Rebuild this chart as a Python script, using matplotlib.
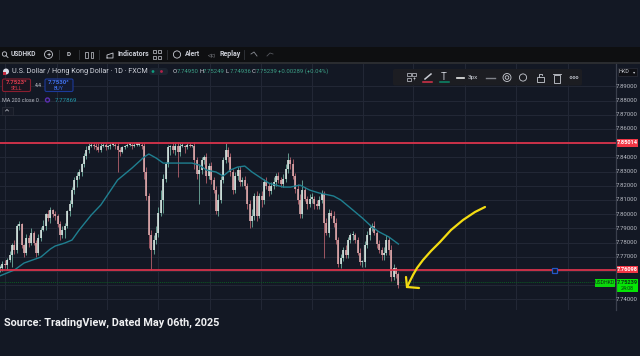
import matplotlib
matplotlib.use("Agg")
import matplotlib.pyplot as plt
from matplotlib.patches import Rectangle, FancyBboxPatch, Circle

BG = "#131824"
GRID = "#232836"

closes = [
 7.762,7.765,7.764,7.768,7.771,7.778,7.775,7.792,7.793,7.778,
 7.773,7.783,7.780,7.787,7.780,7.773,7.783,7.789,7.792,7.800,
 7.797,7.803,7.800,7.799,7.793,7.785,7.789,7.792,7.802,7.807,
 7.817,7.824,7.827,7.830,7.835,7.841,7.845,7.848,7.849,7.848,
 7.847,7.845,7.848,7.849,7.847,7.848,7.849,7.849,7.848,7.845,
 7.844,7.847,7.848,7.849,7.849,7.848,7.849,7.849,7.849,7.848,
 7.830,7.813,7.785,7.775,7.782,7.787,7.801,7.810,7.825,7.835,
 7.847,7.848,7.845,7.848,7.844,7.848,7.848,7.847,7.849,7.848,
 7.848,7.838,7.828,7.831,7.838,7.840,7.827,7.834,7.824,7.817,
 7.802,7.810,7.824,7.838,7.845,7.840,7.830,7.817,7.827,7.831,
 7.823,7.824,7.820,7.807,7.795,7.799,7.813,7.799,7.813,7.810,
 7.823,7.820,7.816,7.820,7.823,7.827,7.824,7.821,7.825,7.832,
 7.838,7.835,7.827,7.818,7.810,7.800,7.817,7.811,7.807,7.811,
 7.811,7.807,7.806,7.810,7.814,7.794,7.787,7.801,7.799,7.794,
 7.782,7.765,7.769,7.775,7.771,7.782,7.785,7.785,7.782,7.773,
 7.766,7.766,7.778,7.785,7.790,7.792,7.787,7.779,7.775,7.771,
 7.773,7.782,7.775,7.756,7.762,7.758,7.750]
wick_up = [
 2,2,3,1,3,2,4,1,2,1,
 1,3,2,3,1,2,3,2,4,1,
 3,2,1,2,1,2,3,2,1,3,
 2,2,3,2,1,2,3,2,1,1,
 2,3,2,1,1,1,1,1,1,3,
 2,1,1,1,1,1,1,1,1,1,
 2,3,2,4,3,5,4,7,3,2,
 2,1,3,2,3,2,2,1,1,1,
 1,3,2,4,2,2,3,2,3,2,
 3,4,3,2,5,2,3,2,3,2,
 3,2,3,2,3,5,2,3,2,3,
 2,3,2,3,3,2,3,2,3,3,
 5,2,4,2,3,4,7,2,2,3,
 4,2,3,3,3,2,3,3,2,3,
 3,2,3,2,3,2,2,3,2,2,
 3,2,3,3,2,2,3,2,3,2,
 4,3,2,3,3,1,1]
wick_down = [
 3,2,2,3,2,8,3,2,3,2,
 3,2,3,2,2,3,2,2,1,3,
 2,3,2,3,2,3,2,6,2,3,
 2,3,5,2,3,2,2,2,1,2,
 2,1,1,1,2,1,2,1,2,15,
 3,1,1,1,1,2,1,1,1,2,
 5,3,9,14,3,3,3,2,9,2,
 2,5,2,3,18,3,1,4,1,1,
 1,6,3,21,3,3,5,2,3,2,
 2,3,2,2,2,3,3,3,2,3,
 3,3,2,3,5,4,3,4,2,5,
 3,2,3,2,2,3,2,2,2,2,
 3,3,2,3,3,3,3,2,3,2,
 3,3,2,2,2,25,2,3,2,3,
 3,2,3,2,2,2,2,3,2,2,
 2,3,3,2,3,2,2,3,2,3,
 3,2,4,3,2,3,2]
ma_bars = [0,6,10,17,21,23,27,30,33,38,42,49,55,60,62,65,68,73,80,83,
           86,90,93,96,99,102,105,110,112,118,121,125,129,133,139,142,146,151,155,158,162,166]
ma_prices = [7.7566,7.7607,7.7656,7.7698,7.7755,7.7776,7.7797,7.7818,7.7889,7.7994,7.8065,7.8241,
             7.8325,7.8402,7.8424,7.8396,7.8360,7.8360,7.8360,7.8346,
             7.8311,7.8297,7.8269,7.8311,7.8332,7.8339,7.8297,7.8241,7.8219,7.8191,7.8191,7.8205,
             7.8170,7.8149,7.8128,7.8100,7.8044,7.7973,7.7910,7.7875,7.7840,7.7790]
grid_bars = [2,23.6,44.6,65.8,87.3,108.6,129.8,151.3,172.1,193.8,215,236.7]
price_ticks = [7.74,7.75,7.76,7.77,7.78,7.79,7.80,7.81,7.82,7.83,7.84,7.85,7.86,7.87,7.88,7.89]
tick_labels = ["7.74000","","","7.77000","7.78000","7.79000","7.80000","7.81000","7.82000",
               "7.83000","7.84000","","7.86000","7.87000","7.88000","7.89000"]
levels = [7.85014, 7.76098]
level_labels = ["7.85014", "7.76098"]
last_price = 7.75239
arrow_x = [485,475,463,451,440,431,423,417,413,407]
arrow_y = [207,212,220,230,242,251,260,268,275,287]

W, H = 640, 356
fig = plt.figure(figsize=(6.4, 3.56), dpi=100, facecolor=BG)

ax = fig.add_axes([0, (H-310)/H, 616/W, (310-63)/H], facecolor=BG)
ax.set_xlim(0, 616/2.4)
ax.set_ylim(7.85014-167/1420, 7.85014+80/1420)
ax.set_axis_off()
for g in grid_bars:
    ax.axvline(g, color=GRID, lw=0.7, zorder=1)
for p in price_ticks:
    ax.axhline(p, color=GRID, lw=0.7, zorder=1)

bars = list(range(len(closes)))
opens = [closes[0]] + closes[:-1]
for i, o, c, u, d in zip(bars, opens, closes, wick_up, wick_down):
    up = c >= o
    hi = max(o, c) + u*0.001
    lo = min(o, c) - d*0.001
    ax.vlines(i, lo, hi, color="#6fae9f" if up else "#b4606c", lw=0.6, zorder=3)
    ax.vlines(i, min(o, c), max(max(o, c), min(o, c)+0.001),
              color="#e6f2ee" if up else "#e8b4b6", lw=1.1, zorder=4)
ax.plot(ma_bars, ma_prices, color="#1f7f90", lw=1.0, zorder=5)
for lv in levels:
    ax.axhline(lv, color="#d9334b", lw=1.3, zorder=6)
ax.axhline(last_price, color="#0c5a22", lw=0.7, ls=(0, (1, 1)), zorder=2)

ui = fig.add_axes([0, 0, 1, 1], facecolor="none")
ui.set_xlim(0, W); ui.set_ylim(H, 0); ui.set_axis_off()
TXT = "#c9ccd4"
FONTS = ["Roboto", "DejaVu Sans"]
def t(x, y, s, size=4.6, color=TXT, ha="left", weight="normal", font=None, **kw):
    ui.text(x, y, s, fontsize=size, color=color, ha=ha, va="center", weight=weight,
            family=font or FONTS, **kw)

ui.add_patch(Rectangle((0, 47), 640, 15, fc="#0e0f11", ec="none"))
ui.add_patch(Rectangle((0, 62), 640, 1.6, fc="#2a2c30", ec="none"))
ui.add_patch(Rectangle((0, 310), 640, 46, fc=BG, ec="none"))
ui.plot([616, 616], [64, 310], color="#3a3f4c", lw=0.9)

ui.add_patch(Circle((4.5, 54), 2.2, fc="none", ec=TXT, lw=0.6))
ui.plot([6, 8], [55.6, 57.5], color=TXT, lw=0.6)
t(11, 54.5, "USDHKD", 4.8, weight="bold")
ui.add_patch(Circle((48.5, 54.5), 4, fc="none", ec=TXT, lw=0.6))
t(48.5, 54.5, "+", 5.5, ha="center")
t(69, 54.5, "D", 4.6, ha="center", weight="bold")
for x in [59, 79, 99, 167, 244]:
    ui.plot([x, x], [50, 59], color="#33363c", lw=0.6)
for x in [86.5, 92]:
    ui.add_patch(Rectangle((x-1.3, 51.5), 2.6, 6, fc="none", ec=TXT, lw=0.5))
ui.plot([107, 113, 113, 107, 107], [58, 58, 53, 55, 58], color=TXT, lw=0.6)
t(118, 54.5, "Indicators", 5, weight="bold")
for x in [155, 160]:
    for y in [51.5, 57]:
        ui.add_patch(Rectangle((x-2, y-1.5), 3.4, 3.2, fc="none", ec=TXT, lw=0.5))
ui.add_patch(Circle((177, 54.5), 3.6, fc="none", ec=TXT, lw=0.6))
t(185, 54.5, "Alert", 5, weight="bold")
t(208, 54.5, "◁◁", 3.4)
t(219, 54.5, "Replay", 5, weight="bold")
ui.plot([251, 254, 257], [54, 52, 56], color="#8b8e95", lw=0.6)
ui.plot([267, 270, 273], [56, 53, 54], color="#55585e", lw=0.6)

ui.add_patch(Circle((6, 71.5), 3, fc="#d8dbe6", ec="none"))
ui.add_patch(Rectangle((3, 71.5), 3, 3, fc="#c5283d", ec="none"))
t(12, 71.5, "U.S. Dollar / Hong Kong Dollar · 1D · FXCM", 5.25, color="#d1d4dc")
ui.add_patch(FancyBboxPatch((149, 68), 19, 7, boxstyle="round,pad=0,rounding_size=3", fc="#1c2430", ec="none"))
ui.add_patch(Circle((153, 71.5), 1.4, fc="#0f9d80", ec="none"))
ui.add_patch(Circle((161.5, 71.5), 1.4, fc="#b3214a", ec="none"))
ohlc = [(173, "O", "7.74950"), (199.5, "H", "7.75249"), (226, "L", "7.74936"), (252, "C", "7.75239")]
for x, k, v in ohlc:
    t(x, 71.5, k, 4.3, color="#d1d4dc")
    t(x+3.6, 71.5, v, 4.3, color="#3c9f86")
t(278.5, 71.5, "+0.00289 (+0.04%)", 4.3, color="#3c9f86")

ui.add_patch(FancyBboxPatch((2.5, 79), 28, 12.5, boxstyle="round,pad=0,rounding_size=1.5", fc="#1a1520", ec="#8a1f30", lw=0.8))
t(16.5, 82.5, "7.7523⁹", 4.4, color="#d83a4c", ha="center", weight="bold")
t(16.5, 88.5, "SELL", 3.8, color="#d83a4c", ha="center")
t(38, 85.5, "4.4", 3.6, ha="center")
ui.add_patch(FancyBboxPatch((45, 79), 28, 12.5, boxstyle="round,pad=0,rounding_size=1.5", fc="#131a30", ec="#1c3a9a", lw=0.8))
t(59, 82.5, "7.7530³", 4.4, color="#3f6fe8", ha="center", weight="bold")
t(59, 88.5, "BUY", 3.8, color="#3f6fe8", ha="center")
t(2.5, 100, "MA 200 close 0", 3.9, color="#b2b5be")
ui.add_patch(Circle((47.5, 100), 2, fc="none", ec="#5b2fb0", lw=1))
t(55, 100, "7.77869", 4.4, color="#2196a6")
ui.add_patch(Rectangle((1.5, 106.5), 11, 8, fc="#171b27", ec="#2a2e39", lw=0.5))
ui.plot([5.5, 7, 8.5], [111, 109.5, 111], color=TXT, lw=0.5)

ui.add_patch(FancyBboxPatch((393, 69), 189, 16.5, boxstyle="round,pad=0,rounding_size=2", fc="#1c1d22", ec="none", zorder=4))
for x, y in [(409, 74.5), (414, 74.5), (409, 79.5)]:
    ui.add_patch(Rectangle((x-2, y-2), 3.6, 3.6, fc="none", ec=TXT, lw=0.5, zorder=5))
t(414, 79.5, "+", 4, zorder=5, ha="center")
ui.plot([425, 431], [79, 74], color=TXT, lw=1.1, zorder=5)
ui.plot([423, 432], [81.5, 81.5], color="#d9334b", lw=1.1, zorder=5)
t(444, 76.5, "T", 7, ha="center", zorder=5)
ui.plot([440, 449], [81.5, 81.5], color="#0c8a6b", lw=1.1, zorder=5)
ui.plot([457, 464], [77.5, 77.5], color="#e8e8e8", lw=1.2, zorder=5)
t(468, 77.5, "3px", 4.6, zorder=5)
ui.plot([486, 495], [77.5, 77.5], color="#80838a", lw=1, zorder=5)
ui.add_patch(Circle((507, 77.5), 4, fc="none", ec=TXT, lw=0.6, zorder=5))
ui.add_patch(Circle((507, 77.5), 1.8, fc="none", ec=TXT, lw=0.6, zorder=5))
ui.add_patch(Circle((523, 77.5), 3.6, fc="none", ec=TXT, lw=0.6, zorder=5))
ui.add_patch(Rectangle((537, 77), 6.5, 5, fc="none", ec=TXT, lw=0.6, zorder=5))
ui.plot([538.5, 538.5, 542, 542], [77, 73.5, 73.5, 75], color=TXT, lw=0.6, zorder=5)
ui.add_patch(Rectangle((554, 74.5), 6, 8, fc="none", ec=TXT, lw=0.6, zorder=5))
ui.plot([553, 561], [74, 74], color=TXT, lw=0.6, zorder=5)
for x in [571, 574, 577]:
    ui.add_patch(Circle((x, 77.5), 1, fc="none", ec=TXT, lw=0.5, zorder=5))

y_of = lambda p: 143 + (7.85014-p)*1420
for p, s in zip(price_ticks, tick_labels):
    if s:
        t(627, y_of(p), s, 4.3, color="#b8bbc4", ha="center")
ui.add_patch(Rectangle((618, 68), 19, 8, fc="#0f1015", ec="#2a2e39", lw=0.5))
t(624, 71.8, "HKD", 3.9, ha="center")
t(634, 71.8, "▾", 3.2, ha="center")
for lv, s in zip(levels, level_labels):
    ui.add_patch(Rectangle((616, y_of(lv)-3.8), 22, 7.6, fc="#f23645", ec="none"))
    t(627, y_of(lv), s, 4.1, color="#ffffff", ha="center", weight="bold")
ui.add_patch(Rectangle((595, 279), 20, 7.5, fc="#0bd80b", ec="none"))
t(605, 282.7, "USDHKD", 3.8, color="#0a3a12", ha="center")
ui.add_patch(Rectangle((616, 279), 22, 12.5, fc="#05e605", ec="none"))
t(627, 282.5, "7.75239", 4.1, color="#0a3a12", ha="center", weight="bold")
t(627, 288.3, "24:08", 3.8, color="#0a3a12", ha="center")

ui.plot(arrow_x, arrow_y, color="#f4dc12", lw=1.6, solid_capstyle="round", zorder=7)
ui.plot([406, 407, 419], [277, 287, 288], color="#f4dc12", lw=1.6, solid_capstyle="round", solid_joinstyle="miter", zorder=7)
ui.add_patch(Rectangle((551.5, 267.5), 5, 5, fc="#131824", ec="#2456c8", lw=0.9, zorder=8))

t(4.5, 323, "Source: TradingView, Dated May 06th, 2025", 7.85, color="#f0f1f3", weight="bold")

fig.savefig("out.png", dpi=100, facecolor=BG)
